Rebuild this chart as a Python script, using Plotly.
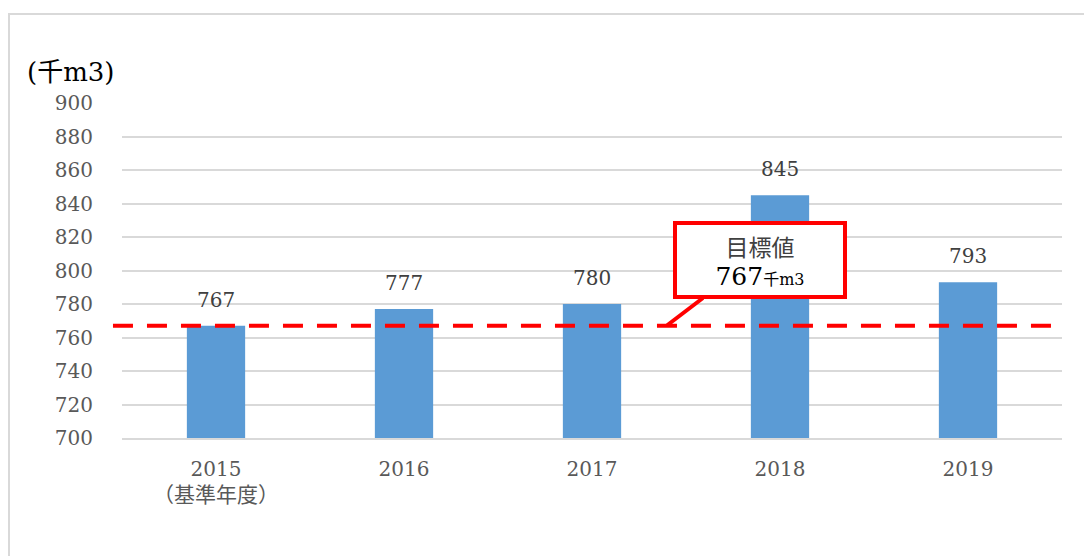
import plotly.graph_objects as go

years = ["2015<br><span style='font-size:21px'>（基準年度）</span>", "2016", "2017", "2018", "2019"]
values = [767, 777, 780, 845, 793]
target = 767
y_ticks = [700, 720, 740, 760, 780, 800, 820, 840, 860, 880, 900]

FONT = "'DejaVu Serif', 'Noto Sans CJK JP', serif"
xpos = list(range(len(values)))

fig = go.Figure()
fig.add_trace(go.Bar(
    x=xpos, y=values, width=0.31,
    marker=dict(color="#5B9BD5", line=dict(width=0)),
    hoverinfo="x+y",
))

# data labels above bars
for xi, v in zip(xpos, values):
    fig.add_annotation(x=xi, y=v, xref="x", yref="y", showarrow=False,
                       text=str(v), yanchor="middle", yshift=26,
                       font=dict(family=FONT, size=20, color="#404040"))

# chart frame
fig.add_shape(type="rect", xref="paper", yref="paper",
              x0=-0.1202, x1=1.04, y0=-0.40, y1=1.2657,
              line=dict(color="#D9D9D9", width=2), fillcolor="rgba(0,0,0,0)", layer="below")

# target dashed line
fig.add_shape(type="line", xref="paper", yref="y",
              x0=-0.0096, x1=1.0, y0=target, y1=target,
              line=dict(color="#FF0000", width=4, dash="20px,14px"))

# callout pointer
fig.add_shape(type="line", xref="x", yref="y",
              x0=2.59, y0=783.6, x1=2.40, y1=target + 0.3,
              line=dict(color="#FF0000", width=4))

# callout box
fig.add_annotation(
    x=2.891, y=806.3, xref="x", yref="y", showarrow=False,
    text="<span style='font-family:Noto Sans CJK JP'>目標値</span><br>"
         "<span style='font-size:25px;color:#000000'>" + str(target) + "</span>"
         "<span style='font-size:16px;color:#000000'>千m3</span>",
    font=dict(family=FONT, size=23, color="#404040"),
    bgcolor="white", bordercolor="#FF0000", borderwidth=4,
    width=164, height=68, align="center", valign="middle",
)

# unit label
fig.add_annotation(
    x=-0.103, y=1.0925, xref="paper", yref="paper", showarrow=False,
    xanchor="left", yanchor="middle",
    text="(千m3)", font=dict(family=FONT, size=26, color="#000000"),
)

fig.update_layout(
    width=1092, height=556,
    margin=dict(l=114, r=38, t=95, b=126),
    paper_bgcolor="white", plot_bgcolor="white",
    showlegend=False,
    font=dict(family=FONT, color="#595959"),
    xaxis=dict(
        tickmode="array", tickvals=xpos, ticktext=years,
        range=[-0.5, len(values) - 0.5],
        showgrid=False, zeroline=False, showline=True,
        linecolor="#D9D9D9", linewidth=2,
        tickfont=dict(family=FONT, size=20, color="#595959"),
        ticks="", ticklabelstandoff=12,
    ),
    yaxis=dict(
        range=[700, 900], tickmode="array", tickvals=y_ticks,
        showgrid=True, gridcolor="#D9D9D9", gridwidth=2,
        zeroline=False, showline=False,
        tickfont=dict(family=FONT, size=20, color="#595959"),
        ticks="", ticklabelstandoff=28,
    ),
)

fig.write_html("out.html")
